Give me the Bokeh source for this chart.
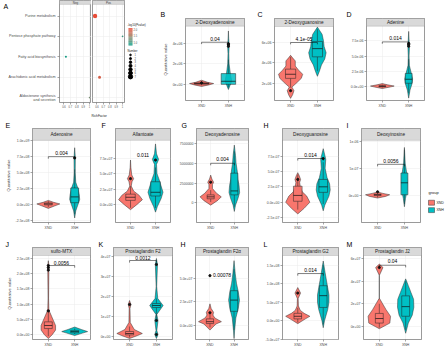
from bokeh.plotting import figure
from bokeh.layouts import row, column
from bokeh.models import (Range1d, FixedTicker, BoxAnnotation, Label, Title,
                          LinearColorMapper, ColumnDataSource)
from bokeh.core.properties import value
from bokeh.embed import file_html
from bokeh.resources import INLINE

FONT = "Liberation Sans"
groups = ["XND", "XNH"]
group_colors = ["#F8766D", "#00BFC4"]

# ---------------- Panel A : enrichment dot plot ----------------
pathways = ["Purine metabolism", "Pentose phosphate pathway", "Fatty acid biosynthesis",
            "Arachidonic acid metabolism", "Aldosterone synthesis\nand secretion"]
path_mode = ["Pos", "Pos", "Neg", "Pos", "Neg"]
rich_factor = [0.57, 1.0, 0.63, 0.64, 1.0]
neglog_p = [2.05, 0.95, 0.85, 1.85, 1.35]
path_number = [7, 1, 2, 4, 1]
rich_ticks = [0.6, 0.7, 0.8, 0.9, 1.0]
pval_ticks = [1.0, 1.5, 2.0]
size_legend = [1, 2, 3, 4, 5, 6, 7]
facets = ["Neg", "Pos"]

# ---------------- Violin panels ----------------
# box lists: [lower whisker, q1, median, q3, upper whisker]
B_name = "2-Deoxyadenosine"
B_ylim = [-1.57e6, 5.66e6]
B_ticks = [0, 2e6, 4e6]
B_ticklab = ["0e+00", "2e+06", "4e+06"]
B_nd_val = [-0.2e6, -0.05e6, 0.08e6, 0.2e6, 0.4e6]
B_nd_den = [0, 0.55, 0.9, 0.45, 0]
B_nd_box = [-0.1e6, 0.02e6, 0.08e6, 0.15e6, 0.3e6]
B_nd_out = [0.15e6]
B_nh_val = [-0.5e6, -0.1e6, 0.3e6, 1.0e6, 2.0e6, 3.0e6, 3.8e6, 4.5e6, 5.2e6]
B_nh_den = [0, 0.12, 0.25, 0.15, 0.05, 0.03, 0.06, 0.02, 0]
B_nh_box = [-0.3e6, 0.0, 0.3e6, 1.05e6, 2.4e6]
B_nh_out = [3.7e6, 3.85e6, 3.95e6]
B_p, B_p_y, B_br_y = "0.04", 4.45e6, 4.1e6

C_name = "2-Deoxyguanosine"
C_ylim = [0.34e6, 7.56e6]
C_ticks = [2e6, 4e6, 6e6]
C_ticklab = ["2e+06", "4e+06", "6e+06"]
C_nd_val = [0.55e6, 0.9e6, 1.3e6, 1.65e6, 2.0e6, 2.5e6, 2.9e6, 3.3e6, 3.7e6, 4.2e6, 4.5e6, 4.75e6]
C_nd_den = [0, 0.15, 0.25, 0.1, 0.4, 0.8, 0.9, 0.6, 0.35, 0.35, 0.15, 0]
C_nd_box = [1.6e6, 2.5e6, 2.9e6, 3.4e6, 4.6e6]
C_nd_out = [1.3e6]
C_nh_val = [2.7e6, 3.2e6, 3.8e6, 4.4e6, 5.0e6, 5.6e6, 6.2e6, 6.8e6, 7.2e6, 7.5e6]
C_nh_den = [0, 0.15, 0.3, 0.55, 0.65, 0.5, 0.45, 0.35, 0.15, 0]
C_nh_box = [3.2e6, 4.6e6, 5.4e6, 6.1e6, 7.3e6]
C_nh_out = []
C_p, C_p_y, C_br_y = "4.1e-05", 6.35e6, 6.0e6

D_name = "Adenine"
D_ylim = [-2.19e-6, 9.84e-6]
D_ticks = [0, 2.5e-6, 5e-6, 7.5e-6]
D_ticklab = ["0.0e+00", "2.5e-06", "5.0e-06", "7.5e-06"]
D_nd_val = [-0.25e-6, 0.0, 0.15e-6, 0.35e-6, 0.55e-6]
D_nd_den = [0, 0.6, 0.9, 0.4, 0]
D_nd_box = [-0.1e-6, 0.05e-6, 0.12e-6, 0.2e-6, 0.4e-6]
D_nd_out = []
D_nh_val = [-1.8e-6, -0.5e-6, 0.5e-6, 1.3e-6, 2.2e-6, 3.5e-6, 5.0e-6, 6.5e-6, 7.2e-6, 9.0e-6]
D_nh_den = [0, 0.1, 0.25, 0.3, 0.2, 0.05, 0.03, 0.06, 0.04, 0]
D_nh_box = [-1.0e-6, 0.6e-6, 1.25e-6, 2.2e-6, 4.5e-6]
D_nh_out = [6.6e-6, 6.85e-6, 7.05e-6]
D_p, D_p_y, D_br_y = "0.014", 7.95e-6, 7.3e-6

E_name = "Adenosine"
E_ylim = [-2.81e8, 1.005e9]
E_ticks = [-2.5e8, 0, 2.5e8, 5e8, 7.5e8, 1e9]
E_ticklab = ["-2.5e+08", "0.0e+00", "2.5e+08", "5.0e+08", "7.5e+08", "1.0e+09"]
E_nd_val = [-0.6e8, -0.2e8, 0.1e8, 0.35e8, 0.65e8]
E_nd_den = [0, 0.5, 0.87, 0.4, 0]
E_nd_box = [-0.4e8, -0.05e8, 0.1e8, 0.25e8, 0.55e8]
E_nd_out = []
E_nh_val = [-2.1e8, -1.0e8, 0, 0.8e8, 1.5e8, 2.5e8, 3.5e8, 5e8, 7.3e8, 8.9e8]
E_nh_den = [0, 0.08, 0.25, 0.38, 0.35, 0.25, 0.08, 0.04, 0.05, 0]
E_nh_box = [-1.5e8, 0.3e8, 1.2e8, 2.6e8, 5.5e8]
E_nh_out = [7.3e8]
E_p, E_p_y, E_br_y = "0.004", 8.0e8, 7.5e8

F_name = "Allantoate"
F_ylim = [-2.87e7, 1.037e8]
F_ticks = [0, 2.5e7, 5e7, 7.5e7]
F_ticklab = ["0.0e+00", "2.5e+07", "5.0e+07", "7.5e+07"]
F_nd_val = [-0.8e7, 0, 0.8e7, 1.5e7, 2.2e7, 3.0e7, 3.7e7, 4.2e7, 4.8e7, 6e7, 7.2e7]
F_nd_den = [0, 0.5, 0.95, 0.7, 0.25, 0.06, 0.12, 0.25, 0.1, 0.03, 0]
F_nd_box = [-0.5e7, 0.7e7, 1.2e7, 1.7e7, 3.0e7]
F_nd_out = [4.2e7]
F_nh_val = [-1.2e7, -0.3e7, 1e7, 2e7, 3e7, 4e7, 5e7, 6.5e7, 7.3e7, 8.2e7, 9.8e7]
F_nh_den = [0, 0.15, 0.45, 0.6, 0.45, 0.3, 0.12, 0.08, 0.25, 0.08, 0]
F_nh_box = [-0.5e7, 1.4e7, 2.0e7, 3.7e7, 6.0e7]
F_nh_out = [7.2e7]
F_p, F_p_y, F_br_y = "0.011", 8.0e7, None

G_name = "Deoxyadenosine"
G_ylim = [-2.5e6, 7.9e6]
G_ticks = [0, 2.5e6, 5e6, 7.5e6]
G_ticklab = ["0", "2500000", "5000000", "7500000"]
G_nd_val = [-0.3e6, 0.3e6, 0.75e6, 1.2e6, 1.8e6, 2.3e6, 2.6e6, 3.0e6, 3.5e6]
G_nd_den = [0, 0.6, 0.9, 0.5, 0.15, 0.15, 0.25, 0.1, 0]
G_nd_box = [0.1e6, 0.5e6, 0.75e6, 1.0e6, 1.6e6]
G_nd_out = [2.6e6]
G_nh_val = [-1.1e6, -0.3e6, 0.5e6, 1.3e6, 2.2e6, 3.0e6, 4.0e6, 5.0e6, 6.0e6, 7.3e6]
G_nh_den = [0, 0.1, 0.3, 0.45, 0.4, 0.3, 0.25, 0.15, 0.1, 0]
G_nh_box = [-0.5e6, 1.0e6, 1.5e6, 3.75e6, 6.5e6]
G_nh_out = []
G_p, G_p_y, G_br_y = "0.004", 5.6e6, 5.0e6

H_name = "Deoxyguanosine"
H_ylim = [-3.3e-7, 1.005e-6]
H_ticks = [-2.5e-7, 0, 2.5e-7, 5e-7, 7.5e-7]
H_ticklab = ["-2.5e-07", "0.0e+00", "2.5e-07", "5.0e-07", "7.5e-07"]
H_nd_val = [-1.9e-7, -1e-7, 0, 1e-7, 1.7e-7, 2.5e-7, 3.2e-7, 3.7e-7, 4.3e-7, 4.8e-7]
H_nd_den = [0, 0.5, 0.95, 0.7, 0.35, 0.2, 0.15, 0.22, 0.12, 0]
H_nd_box = [-1.2e-7, 0.15e-7, 1.1e-7, 2.6e-7, 4.5e-7]
H_nd_out = [3.7e-7]
H_nh_val = [-1.4e-7, -0.5e-7, 1e-7, 2e-7, 3e-7, 4e-7, 5.5e-7, 7e-7, 8.7e-7]
H_nh_den = [0, 0.12, 0.45, 0.55, 0.5, 0.3, 0.15, 0.2, 0]
H_nh_box = [-0.3e-7, 1.6e-7, 2.5e-7, 3.7e-7, 6.5e-7]
H_nh_out = [7.1e-7]
H_p, H_p_y, H_br_y = "0.014", 7.65e-7, 7.1e-7

I_name = "Deoxyinosine"
I_ylim = [-4.9e-7, 1.02e-6]
I_ticks = [0, 5e-7, 1e-6]
I_ticklab = ["0e+00", "5e-07", "1e-06"]
I_nd_val = [-0.4e-7, -0.1e-7, 0.2e-7, 0.45e-7, 0.7e-7]
I_nd_den = [0, 0.6, 0.9, 0.4, 0]
I_nd_box = [-0.3e-7, 0.05e-7, 0.2e-7, 0.3e-7, 0.6e-7]
I_nd_out = [0.75e-7]
I_nh_val = [-2e-7, -0.5e-7, 1e-7, 2.5e-7, 4e-7, 6e-7, 8.9e-7]
I_nh_den = [0, 0.08, 0.2, 0.22, 0.18, 0.06, 0]
I_nh_box = [-1.5e-7, 0.2e-7, 2.4e-7, 4.2e-7, 8.5e-7]
I_nh_out = []
I_p, I_p_y, I_br_y = "0.0056", 6.4e-7, 5.8e-7

J_name = "sulfo-MTX"
J_ylim = [-1.6e7, 2.6e8]
J_ticks = [0, 5e7, 1e8, 1.5e8, 2e8, 2.5e8]
J_ticklab = ["0.0e+00", "5.0e+07", "1.0e+08", "1.5e+08", "2.0e+08", "2.5e+08"]
J_nd_val = [-1.3e7, 0, 1.5e7, 3e7, 4.5e7, 6e7, 7.5e7, 8.5e7, 1.2e8, 2.1e8, 2.25e8, 2.43e8]
J_nd_den = [0, 0.3, 0.55, 0.55, 0.4, 0.25, 0.1, 0.04, 0.02, 0.04, 0.05, 0]
J_nd_box = [-0.5e7, 2e7, 3e7, 4.2e7, 7.5e7]
J_nd_out = [7.8e7, 2.12e8, 2.2e8, 2.27e8]
J_nh_val = [-0.3e7, 0.5e7, 1e7, 1.7e7, 2.5e7]
J_nh_den = [0, 0.6, 0.98, 0.5, 0]
J_nh_box = [0.2e7, 0.6e7, 1e7, 1.4e7, 2.0e7]
J_nh_out = []
J_p, J_p_y, J_br_y = "0.0056", 2.36e8, 2.27e8

K_name = "Prostaglandin F2"
K_ylim = [-0.15e7, 4.05e7]
K_ticks = [0, 1e7, 2e7, 3e7, 4e7]
K_ticklab = ["0e+00", "1e+07", "2e+07", "3e+07", "4e+07"]
K_nd_val = [-0.1e7, 0.05e7, 0.15e7, 0.35e7, 0.7e7, 1.4e7, 1.6e7, 1.8e7]
K_nd_den = [0, 0.6, 0.95, 0.35, 0.05, 0.03, 0.1, 0]
K_nd_box = [-0.05e7, 0.08e7, 0.15e7, 0.25e7, 0.5e7]
K_nd_out = [1.6e7]
K_nh_val = [-0.1e7, 0.1e7, 0.3e7, 0.8e7, 1.1e7, 1.55e7, 1.9e7, 2.5e7, 3.6e7, 3.9e7]
K_nh_den = [0, 0.12, 0.03, 0.12, 0.03, 0.5, 0.1, 0.02, 0.08, 0]
K_nh_box = [0.8e7, 1.45e7, 1.55e7, 1.65e7, 1.9e7]
K_nh_out = [0.1e7, 0.8e7, 3.6e7]
K_p, K_p_y, K_br_y = "0.0012", 3.95e7, 3.8e7

N_name = "Prostaglandin F2\u03b1"
N_ylim = [-1.5e7, 7.45e7]
N_ticks = [0, 2.5e7, 5e7]
N_ticklab = ["0.0e+00", "2.5e+07", "5.0e+07"]
N_nd_val = [-0.5e7, 0.15e7, 0.4e7, 0.8e7, 1.1e7, 1.4e7, 1.8e7, 2.3e7]
N_nd_den = [0, 0.5, 0.95, 0.4, 0.25, 0.3, 0.1, 0]
N_nd_box = [-0.2e7, 0.2e7, 0.4e7, 0.7e7, 1.2e7]
N_nd_out = [1.35e7, 5.3e7]
N_nh_val = [-1.4e7, -0.5e7, 0.8e7, 1.8e7, 2.7e7, 3.6e7, 4.5e7, 5.5e7, 6.9e7]
N_nh_den = [0, 0.05, 0.15, 0.35, 0.45, 0.35, 0.2, 0.1, 0]
N_nh_box = [-0.5e7, 1.5e7, 2.7e7, 3.7e7, 6.0e7]
N_nh_out = []
N_p, N_p_y, N_br_y = "0.00078", 5.4e7, None

L_name = "Prostaglandin G2"
L_ylim = [-5.1e7, 1.77e8]
L_ticks = [-5e7, 0, 5e7, 1e8, 1.5e8]
L_ticklab = ["-5.0e+07", "0.0e+00", "5.0e+07", "1.0e+08", "1.5e+08"]
L_nd_val = [-0.8e7, 0.5e7, 1.2e7, 2e7, 2.8e7, 4e7, 6e7, 7.5e7, 9e7]
L_nd_den = [0, 0.6, 0.95, 0.5, 0.2, 0.05, 0.03, 0.22, 0]
L_nd_box = [-0.5e7, 0.5e7, 1.2e7, 2.0e7, 3.5e7]
L_nd_out = [7.5e7]
L_nh_val = [-1.9e7, 0, 3e7, 5e7, 7e7, 9e7, 1.1e8, 1.3e8, 1.62e8]
L_nh_den = [0, 0.1, 0.35, 0.45, 0.45, 0.35, 0.25, 0.15, 0]
L_nh_box = [-1e7, 3.6e7, 6.8e7, 9.5e7, 1.5e8]
L_nh_out = []
L_p, L_p_y, L_br_y = "0.014", 1.37e8, 1.28e8

M_name = "Prostaglandin J2"
M_ylim = [-1.15e7, 6.26e7]
M_ticks = [0, 2e7, 4e7, 6e7]
M_ticklab = ["0e+00", "2e+07", "4e+07", "6e+07"]
M_nd_val = [-0.2e7, 0.3e7, 0.9e7, 1.5e7, 2.0e7, 2.5e7, 4.5e7, 5.0e7, 5.2e7, 5.5e7]
M_nd_den = [0, 0.8, 0.85, 0.5, 0.25, 0, 0, 0.2, 0.28, 0]
M_nd_box = [-0.1e7, 0.3e7, 0.7e7, 1.15e7, 2.0e7]
M_nd_out = [5.2e7]
M_nh_val = [-0.6e7, 0.3e7, 1e7, 1.7e7, 2.4e7, 3e7, 3.6e7, 4.2e7]
M_nh_den = [0, 0.2, 0.5, 0.62, 0.6, 0.4, 0.2, 0]
M_nh_box = [-0.3e7, 0.9e7, 1.75e7, 2.7e7, 4.0e7]
M_nh_out = []
M_p, M_p_y, M_br_y = "0.04", 5.75e7, 5.4e7

# ---------------- styling helpers ----------------
TICK_COL = "#4d4d4d"
GRID_COL = "#ebebeb"
STRIP_FILL = "#d9d9d9"
BORDER_COL = "#555555"


def base_fig(w, h, left, right, top, bottom, xr, yr):
    p = figure(width=w, height=h, x_range=xr, y_range=yr, title=None,
               toolbar_location=None, output_backend="svg",
               min_border_left=left, min_border_right=right,
               min_border_top=top, min_border_bottom=bottom)
    p.outline_line_color = BORDER_COL
    p.outline_line_width = 0.6
    p.background_fill_color = "white"
    p.border_fill_color = "white"
    for ax in p.axis:
        ax.axis_line_color = None
        ax.major_tick_line_color = TICK_COL
        ax.major_tick_line_width = 0.5
        ax.major_tick_out = 2
        ax.major_tick_in = 0
        ax.minor_tick_line_color = None
        ax.major_label_text_font = FONT
        ax.major_label_text_font_size = "3.5px"
        ax.major_label_text_color = TICK_COL
        ax.major_label_standoff = 1
    p.grid.grid_line_color = GRID_COL
    p.grid.grid_line_width = 0.5
    return p


def blank_fig(w, h, xr, yr, top=0, bottom=0):
    p = figure(width=w, height=h, x_range=xr, y_range=yr, title=None,
               x_axis_type=None, y_axis_type=None,
               toolbar_location=None, output_backend="svg",
               min_border_left=0, min_border_right=0, min_border_top=top, min_border_bottom=bottom)
    p.outline_line_color = None
    p.background_fill_color = "white"
    p.border_fill_color = "white"
    return p


def add_letter(p, letter, lx, ly, left, top, standoff=None):
    # panel tag as a title sitting just above the frame, shifted left of the frame
    s = max(0, top - ly - 4) if standoff is None else standoff
    p.add_layout(Title(text=letter, align="left", offset=lx - left, standoff=s,
                       text_font=FONT, text_font_size="7px", text_font_style="normal",
                       text_color="black"), "above")


VW = 0.5  # violin half-width scale


def violin_panel(letter, name, ylim, ticks, ticklab, nd, nh, pval, p_y, br_y,
                 w, h, left, right, top, bottom, strip_px, lx, ly, box_half=0.13, ylabel=False,
                 standoff=None):
    frame_h = h - top - bottom
    panel_px = frame_h - strip_px
    y0, y1 = ylim
    strip_h = (y1 - y0) * strip_px / panel_px
    p = base_fig(w, h, left, right, top, bottom, Range1d(0.4, 2.6), Range1d(y0, y1 + strip_h))
    p.xaxis.ticker = FixedTicker(ticks=[1, 2])
    p.xaxis.major_label_overrides = {1: groups[0], 2: groups[1]}
    p.yaxis.ticker = FixedTicker(ticks=ticks)
    p.yaxis.major_label_overrides = dict(zip(ticks, ticklab))
    p.xgrid.ticker = FixedTicker(ticks=[1, 2])
    p.ygrid.ticker = FixedTicker(ticks=ticks)
    if ylabel:
        p.yaxis.axis_label = "Quantitative value"
        p.yaxis.axis_label_text_font = FONT
        p.yaxis.axis_label_text_font_size = "4px"
        p.yaxis.axis_label_text_font_style = "normal"
        p.yaxis.axis_label_standoff = 2
    for i, (vals, dens, box, outs) in enumerate([nd, nh]):
        pos = i + 1
        xs = [pos - VW * d for d in dens] + [pos + VW * d for d in dens[::-1]]
        ys = list(vals) + list(vals[::-1])
        p.patch(xs, ys, fill_color=group_colors[i], line_color="#333333", line_width=0.5)
        lo, q1, med, q3, hi = box
        p.segment(x0=[pos, pos], y0=[lo, q3], x1=[pos, pos], y1=[q1, hi],
                  line_color="#222222", line_width=0.5)
        p.quad(left=[pos - box_half], right=[pos + box_half], bottom=[q1], top=[q3],
               fill_color=group_colors[i], fill_alpha=0.85, line_color="#222222", line_width=0.5)
        p.segment(x0=[pos - box_half], x1=[pos + box_half], y0=[med], y1=[med],
                  line_color="#111111", line_width=0.7)
        if outs:
            p.scatter(x=[pos] * len(outs), y=outs, size=2.2, color="#111111")
    if br_y is not None:
        tip = (y1 - y0) * 0.025
        p.line(x=[1, 1, 2, 2], y=[br_y - tip, br_y, br_y, br_y - tip], line_color="black", line_width=0.5)
    p.text(x=[1.5], y=[p_y], text=[pval], text_align="center", text_baseline="middle",
           text_font=value(FONT), text_font_size="5px", text_color="black")
    p.add_layout(BoxAnnotation(bottom=y1, fill_color=STRIP_FILL, fill_alpha=1.0,
                               line_color=BORDER_COL, line_width=0.6))
    p.add_layout(Label(x=1.5, y=y1 + strip_h / 2, text=name, text_font=FONT, text_font_size="4.7px",
                       text_align="center", text_baseline="middle", text_color="#1a1a1a"))
    add_letter(p, letter, lx, ly, left, top, standoff)
    return p


# ---------------- Panel A ----------------
A_H, A_TOP, A_BOT, A_STRIP = 118, 0, 13, 4
A_ylo, A_yhi = 5.24, 0.43
a_frame_px = A_H - A_TOP - A_BOT
a_panel_px = a_frame_px - A_STRIP
a_strip = (A_ylo - A_yhi) * A_STRIP / a_panel_px
A_xr = (0.53, 1.03)
a_yr = Range1d(A_ylo, A_yhi - a_strip)
cat_pos = list(range(1, len(pathways) + 1))

cmap_palette = ["#1a9c85", "#3b987f", "#5a937a", "#778c72", "#93856a", "#ad7b60",
                "#c26d54", "#d55e47", "#e84b36"]
mapper = LinearColorMapper(palette=cmap_palette, low=0.8, high=2.1)


def size_of(n):
    return 1.2 + 0.45 * n


def dot_fig(facet, w, left, right):
    p = base_fig(w, A_H, left, right, A_TOP, A_BOT, Range1d(*A_xr), a_yr)
    idx = [i for i, m in enumerate(path_mode) if m == facet]
    src = ColumnDataSource(dict(x=[rich_factor[i] for i in idx], y=[i + 1 for i in idx],
                                s=[size_of(path_number[i]) for i in idx],
                                lp=[neglog_p[i] for i in idx]))
    p.xaxis.ticker = FixedTicker(ticks=rich_ticks)
    p.xgrid.ticker = FixedTicker(ticks=rich_ticks)
    p.ygrid.ticker = FixedTicker(ticks=cat_pos)
    p.xaxis.major_label_text_font_size = "2.6px"
    p.yaxis.ticker = FixedTicker(ticks=cat_pos)
    p.yaxis.major_label_overrides = {c: "" for c in cat_pos}
    p.yaxis.major_label_standoff = 0
    if facet != facets[0]:
        p.yaxis.visible = False
    p.scatter("x", "y", size="s", source=src, line_color=None,
              fill_color={"field": "lp", "transform": mapper})
    p.add_layout(BoxAnnotation(bottom=A_yhi, fill_color=STRIP_FILL, fill_alpha=1.0,
                               line_color=BORDER_COL, line_width=0.5))
    p.add_layout(Label(x=sum(A_xr) / 2, y=A_yhi - a_strip / 2, text=facet, text_font=FONT,
                       text_font_size="3px", text_align="center", text_baseline="middle"))
    return p


# pathway names + panel tag, sharing the dot plot's vertical scale
a_lbl = blank_fig(56, A_H, Range1d(0, 56), a_yr, top=A_TOP, bottom=A_BOT)
a_lbl.text(x=[55] * len(pathways), y=cat_pos, text=pathways, text_align="right",
           text_baseline="middle", text_font=value(FONT), text_font_size="3.7px",
           text_color=TICK_COL, text_line_height=1.0)
a_tag_y = a_yr.end + 6 / a_frame_px * (a_yr.start - a_yr.end)
a_lbl.text(x=[3], y=[a_tag_y], text=["A"], text_align="left", text_baseline="middle",
           text_font=value(FONT), text_font_size="7px", text_color="black")

a_neg = dot_fig(facets[0], 35, 3, 0)
a_pos = dot_fig(facets[1], 34, 1, 1)
a_pos.add_layout(Title(text="RichFactor", align="left", offset=-1, standoff=1,
                       text_font=FONT, text_font_size="3.2px", text_font_style="normal",
                       text_color="#1a1a1a"), "below")

# legend for A (drawn in a pixel-unit coordinate system, y downwards)
a_leg = blank_fig(25, A_H, Range1d(0, 25), Range1d(A_H, 0))
CB_TOP, CB_H, CB_STEPS = 32, 20, 24
cb_vals = [mapper.high - (mapper.high - mapper.low) * (k + 0.5) / CB_STEPS for k in range(CB_STEPS)]
cb_y = [CB_TOP + (k + 0.5) * CB_H / CB_STEPS for k in range(CB_STEPS)]
a_leg.rect(x="x", y="y", width=4, height=CB_H / CB_STEPS + 0.05,
           fill_color={"field": "v", "transform": mapper}, line_color=None,
           source=ColumnDataSource(dict(x=[5] * CB_STEPS, y=cb_y, v=cb_vals)))
cb_tick_y = [CB_TOP + (mapper.high - t) / (mapper.high - mapper.low) * CB_H for t in pval_ticks]
a_leg.text(x=[8] * len(pval_ticks), y=cb_tick_y, text=[f"{t:.1f}" for t in pval_ticks],
           text_font=value(FONT), text_font_size="2.6px", text_baseline="middle", text_color=TICK_COL)
a_leg.text(x=[2], y=[28], text=["-log10(Pvalue)"], text_font=value(FONT), text_font_size="2.8px",
           text_baseline="middle", text_color="#1a1a1a")
sl_y = [63 + 4.2 * i for i in range(len(size_legend))]
a_leg.scatter(x=[5] * len(size_legend), y=sl_y, size=[size_of(n) for n in size_legend], color="black")
a_leg.text(x=[9] * len(size_legend), y=sl_y, text=[str(n) for n in size_legend],
           text_font=value(FONT), text_font_size="2.6px", text_baseline="middle", text_color=TICK_COL)
a_leg.text(x=[2], y=[58], text=["Number"], text_font=value(FONT), text_font_size="2.8px",
           text_baseline="middle", text_color="#1a1a1a")

# ---------------- rows ----------------
R1H, R2H, R3H = 118, 114, 117
pB = violin_panel("B", B_name, B_ylim, B_ticks, B_ticklab,
                  (B_nd_val, B_nd_den, B_nd_box, B_nd_out), (B_nh_val, B_nh_den, B_nh_box, B_nh_out),
                  B_p, B_p_y, B_br_y, 102, R1H, 35, 8, 15, 18, 8, 10, 10, box_half=0.27, ylabel=True,
                  standoff=1)
pC = violin_panel("C", C_name, C_ylim, C_ticks, C_ticklab,
                  (C_nd_val, C_nd_den, C_nd_box, C_nd_out), (C_nh_val, C_nh_den, C_nh_box, C_nh_out),
                  C_p, C_p_y, C_br_y, 88, R1H, 22, 7, 18, 18, 8, 5, 10, box_half=0.19, standoff=1)
pD = violin_panel("D", D_name, D_ylim, D_ticks, D_ticklab,
                  (D_nd_val, D_nd_den, D_nd_box, D_nd_out), (D_nh_val, D_nh_den, D_nh_box, D_nh_out),
                  D_p, D_p_y, D_br_y, 106, R1H, 26, 22, 15, 18, 8, 6, 7, box_half=0.13, standoff=1)

pE = violin_panel("E", E_name, E_ylim, E_ticks, E_ticklab,
                  (E_nd_val, E_nd_den, E_nd_box, E_nd_out), (E_nh_val, E_nh_den, E_nh_box, E_nh_out),
                  E_p, E_p_y, E_br_y, 96, R2H, 32, 6, 10, 9, 12, 5, 12, box_half=0.15, ylabel=True)
pF = violin_panel("F", F_name, F_ylim, F_ticks, F_ticklab,
                  (F_nd_val, F_nd_den, F_nd_box, F_nd_out), (F_nh_val, F_nh_den, F_nh_box, F_nh_out),
                  F_p, F_p_y, F_br_y, 80, R2H, 16, 6, 10, 9, 12, 2, 7, box_half=0.19)
pG = violin_panel("G", G_name, G_ylim, G_ticks, G_ticklab,
                  (G_nd_val, G_nd_den, G_nd_box, G_nd_out), (G_nh_val, G_nh_den, G_nh_box, G_nh_out),
                  G_p, G_p_y, G_br_y, 86, R2H, 17, 14, 10, 9, 12, 2, 7, box_half=0.15)
pH = violin_panel("H", H_name, H_ylim, H_ticks, H_ticklab,
                  (H_nd_val, H_nd_den, H_nd_box, H_nd_out), (H_nh_val, H_nh_den, H_nh_box, H_nh_out),
                  H_p, H_p_y, H_br_y, 83, R2H, 20, 7, 10, 9, 12, 1, 12, box_half=0.17)
pI = violin_panel("I", I_name, I_ylim, I_ticks, I_ticklab,
                  (I_nd_val, I_nd_den, I_nd_box, I_nd_out), (I_nh_val, I_nh_den, I_nh_box, I_nh_out),
                  I_p, I_p_y, I_br_y, 80, R2H, 16, 5, 10, 9, 12, 1, 7, box_half=0.13)

# group legend (pixel-unit coordinate system, y downwards)
g_leg = blank_fig(21, R2H, Range1d(0, 21), Range1d(R2H, 0))
key_y = [90 + 9 * i for i in range(len(groups))]
g_leg.text(x=[3], y=[78], text=["group"], text_font=value(FONT), text_font_size="4px",
           text_baseline="middle", text_color="#1a1a1a")
g_leg.rect(x=[6] * len(groups), y=key_y, width=6, height=6, fill_color=group_colors,
           line_color="#333333", line_width=0.5)
g_leg.text(x=[11] * len(groups), y=key_y, text=groups, text_font=value(FONT), text_font_size="3.5px",
           text_baseline="middle", text_color="#1a1a1a")

pJ = violin_panel("J", J_name, J_ylim, J_ticks, J_ticklab,
                  (J_nd_val, J_nd_den, J_nd_box, J_nd_out), (J_nh_val, J_nh_den, J_nh_box, J_nh_out),
                  J_p, J_p_y, J_br_y, 96, R3H, 32, 6, 15, 10, 8, 5, 11, box_half=0.15, ylabel=True)
pK = violin_panel("K", K_name, K_ylim, K_ticks, K_ticklab,
                  (K_nd_val, K_nd_den, K_nd_box, K_nd_out), (K_nh_val, K_nh_den, K_nh_box, K_nh_out),
                  K_p, K_p_y, K_br_y, 80, R3H, 17, 4, 15, 10, 8, 2, 11, box_half=0.15)
pN = violin_panel("H", N_name, N_ylim, N_ticks, N_ticklab,
                  (N_nd_val, N_nd_den, N_nd_box, N_nd_out), (N_nh_val, N_nh_den, N_nh_box, N_nh_out),
                  N_p, N_p_y, N_br_y, 86, R3H, 17, 14, 15, 10, 8, 2, 11, box_half=0.15)
pL = violin_panel("L", L_name, L_ylim, L_ticks, L_ticklab,
                  (L_nd_val, L_nd_den, L_nd_box, L_nd_out), (L_nh_val, L_nh_den, L_nh_box, L_nh_out),
                  L_p, L_p_y, L_br_y, 83, R3H, 20, 7, 15, 10, 8, 1, 11, box_half=0.15)
pM = violin_panel("M", M_name, M_ylim, M_ticks, M_ticklab,
                  (M_nd_val, M_nd_den, M_nd_box, M_nd_out), (M_nh_val, M_nh_den, M_nh_box, M_nh_out),
                  M_p, M_p_y, M_br_y, 101, R3H, 18, 25, 15, 10, 8, 1, 11, box_half=0.15)

# panel A kept in its own sub-row so that its frame is not aligned with B-D
a_block = row(a_lbl, a_neg, a_pos, a_leg)
bcd_block = row(pB, pC, pD)
layout = column(row(a_block, bcd_block),
                row(pE, pF, pG, pH, pI, g_leg),
                row(pJ, pK, pN, pL, pM))

open("out.html", "w").write(file_html(layout, INLINE))
